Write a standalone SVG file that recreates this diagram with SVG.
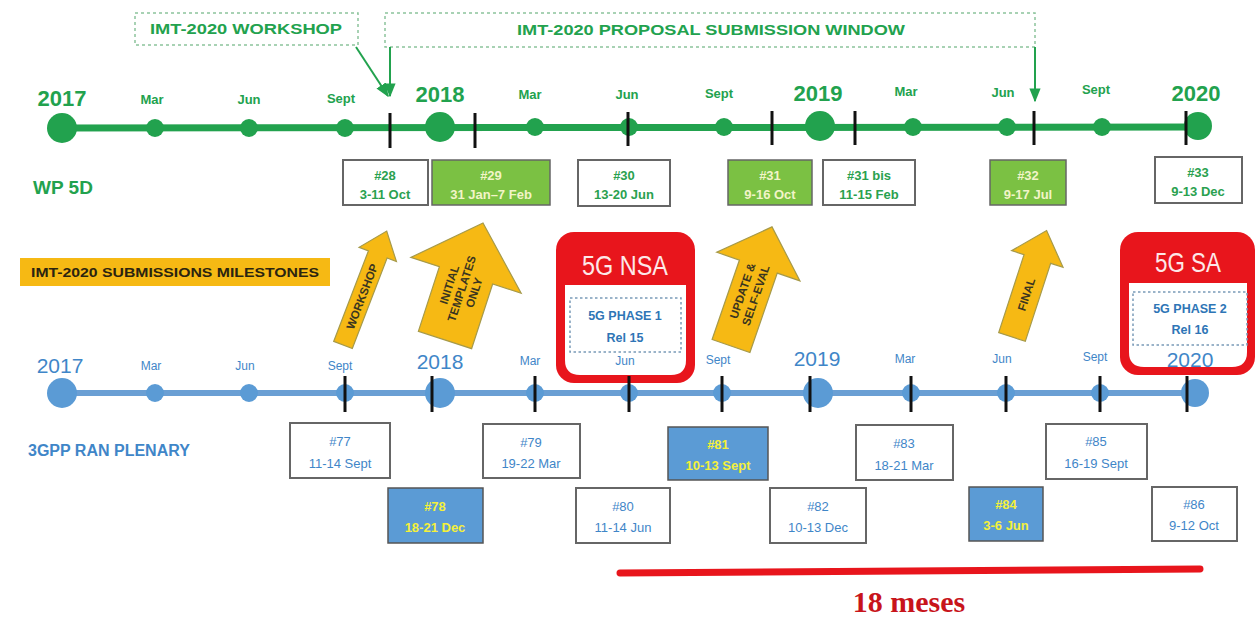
<svg xmlns="http://www.w3.org/2000/svg" width="1258" height="637" viewBox="0 0 1258 637">
<defs>
<style>
.g{fill:#22a24e}
.gt{font-family:"Liberation Sans",Arial,sans-serif;font-weight:bold;fill:#22a24e;text-anchor:middle}
.bt{font-family:"Liberation Sans",Arial,sans-serif;fill:#3f86c8;text-anchor:middle}
.bb{fill:#5b9bd5}
.tick{stroke:#111;stroke-width:3}
.wbox{fill:#fff;stroke:#666;stroke-width:2}
.gbox{fill:#7bc143;stroke:#666;stroke-width:1.5}
.bbox{fill:#5b9bd5;stroke:#555;stroke-width:1.5}
.wpt{font-family:"Liberation Sans",Arial,sans-serif;font-weight:bold;font-size:13px;text-anchor:middle;fill:#2aa14f}
.wpg{font-family:"Liberation Sans",Arial,sans-serif;font-weight:bold;font-size:13px;text-anchor:middle;fill:#f2f4c8}
.rt{font-family:"Liberation Sans",Arial,sans-serif;font-size:13px;text-anchor:middle;fill:#3f86c8}
.ry{font-family:"Liberation Sans",Arial,sans-serif;font-weight:bold;font-size:13px;text-anchor:middle;fill:#f4f03a}
.dash{fill:#fff;stroke:#8cc49c;stroke-width:1.5;stroke-dasharray:3 3}
.oarr{fill:#f6b914;stroke:#a69a4a;stroke-width:1.2}
.otx{font-family:"Liberation Sans",Arial,sans-serif;font-weight:bold;font-size:11.5px;fill:#3a3520;text-anchor:middle}
.red{fill:#e8151c}
.bigw{font-family:"Liberation Sans",Arial,sans-serif;font-size:28px;fill:#fde8e8;text-anchor:middle}
.ph{font-family:"Liberation Sans",Arial,sans-serif;font-weight:bold;font-size:12.5px;fill:#2e75b6;text-anchor:middle}
.idash{fill:none;stroke:#7a9ab8;stroke-width:1.5;stroke-dasharray:2.5 2.5}
</style>
<marker id="ah" viewBox="0 0 10 10" refX="9" refY="5" markerWidth="7" markerHeight="7" orient="auto-start-reverse">
<path d="M0,1 L10,5 L0,9 z" fill="#22a24e"/>
</marker>
</defs>
<rect width="1258" height="637" fill="#fff"/>

<g id="workshop-label">
<rect class="dash" x="135" y="13" width="223" height="32"/>
<text class="gt" x="246" y="34" font-size="15" textLength="192" lengthAdjust="spacingAndGlyphs">IMT-2020 WORKSHOP</text>
</g>
<g id="window-label">
<rect class="dash" x="385" y="13" width="650" height="34"/>
<text class="gt" x="711" y="35" font-size="15" textLength="388" lengthAdjust="spacingAndGlyphs">IMT-2020 PROPOSAL SUBMISSION WINDOW</text>
</g>

<g id="connectors" stroke="#22a24e" stroke-width="2" fill="none">
<line x1="356" y1="47" x2="388" y2="96" marker-end="url(#ah)"/>
<line x1="390" y1="47" x2="390" y2="96" marker-end="url(#ah)"/>
<line x1="1035" y1="47" x2="1035" y2="101" marker-end="url(#ah)"/>
</g>

<g id="wp5d-timeline">
<line x1="62" y1="128" x2="1198" y2="127" stroke="#22a24e" stroke-width="7"/>
<circle class="g" cx="62" cy="128" r="15"/>
<circle class="g" cx="155" cy="128" r="9"/>
<circle class="g" cx="249" cy="128" r="9"/>
<circle class="g" cx="345" cy="128" r="9"/>
<circle class="g" cx="440" cy="127" r="15"/>
<circle class="g" cx="535" cy="127" r="9"/>
<circle class="g" cx="629" cy="127" r="9"/>
<circle class="g" cx="724" cy="127" r="9"/>
<circle class="g" cx="820" cy="126" r="15"/>
<circle class="g" cx="913" cy="127" r="9"/>
<circle class="g" cx="1007" cy="127" r="9"/>
<circle class="g" cx="1102" cy="127" r="9"/>
<circle class="g" cx="1198" cy="126" r="14"/>
<line class="tick" x1="390" y1="113" x2="390" y2="148"/>
<line class="tick" x1="475" y1="113" x2="475" y2="148"/>
<line class="tick" x1="628" y1="112" x2="628" y2="146"/>
<line class="tick" x1="772" y1="111" x2="772" y2="145"/>
<line class="tick" x1="855" y1="111" x2="855" y2="145"/>
<line class="tick" x1="1034" y1="111" x2="1034" y2="145"/>
<line class="tick" x1="1186" y1="111" x2="1186" y2="145"/>
<text class="gt" x="62" y="106" font-size="22">2017</text>
<text class="gt" x="152" y="104" font-size="13">Mar</text>
<text class="gt" x="249" y="104" font-size="13">Jun</text>
<text class="gt" x="341" y="103" font-size="13">Sept</text>
<text class="gt" x="440" y="102" font-size="22">2018</text>
<text class="gt" x="530" y="99" font-size="13">Mar</text>
<text class="gt" x="627" y="99" font-size="13">Jun</text>
<text class="gt" x="719" y="98" font-size="13">Sept</text>
<text class="gt" x="818" y="101" font-size="22">2019</text>
<text class="gt" x="906" y="96" font-size="13">Mar</text>
<text class="gt" x="1003" y="97" font-size="13">Jun</text>
<text class="gt" x="1096" y="94" font-size="13">Sept</text>
<text class="gt" x="1196" y="101" font-size="22">2020</text>
<text class="gt" x="63" y="194" font-size="19">WP 5D</text>
</g>

<g id="wp28"><rect class="wbox" x="343" y="160" width="85" height="45"/><text class="wpt" x="385" y="180">#28</text><text class="wpt" x="385" y="199">3-11 Oct</text></g>
<g id="wp29"><rect class="gbox" x="432" y="160" width="118" height="45"/><text class="wpg" x="491" y="180">#29</text><text class="wpg" x="491" y="199">31 Jan–7 Feb</text></g>
<g id="wp30"><rect class="wbox" x="578" y="160" width="92" height="46"/><text class="wpt" x="624" y="180">#30</text><text class="wpt" x="624" y="199">13-20 Jun</text></g>
<g id="wp31"><rect class="gbox" x="728" y="160" width="84" height="45"/><text class="wpg" x="770" y="180">#31</text><text class="wpg" x="770" y="199">9-16 Oct</text></g>
<g id="wp31bis"><rect class="wbox" x="823" y="160" width="92" height="45"/><text class="wpt" x="869" y="180">#31 bis</text><text class="wpt" x="869" y="199">11-15 Feb</text></g>
<g id="wp32"><rect class="gbox" x="990" y="160" width="76" height="45"/><text class="wpg" x="1028" y="180">#32</text><text class="wpg" x="1028" y="199">9-17 Jul</text></g>
<g id="wp33"><rect class="wbox" x="1155" y="157" width="87" height="46"/><text class="wpt" x="1198" y="177">#33</text><text class="wpt" x="1198" y="196">9-13 Dec</text></g>

<g id="milestones-label">
<rect x="20" y="258" width="310" height="28" fill="#f6b914"/>
<text x="175" y="277" font-family="Liberation Sans, Arial, sans-serif" font-weight="bold" font-size="12" fill="#2b2410" text-anchor="middle" textLength="288" lengthAdjust="spacingAndGlyphs">IMT-2020 SUBMISSIONS MILESTONES</text>
</g>

<g id="arrow-workshop" transform="translate(343,345) rotate(21)">
<path class="oarr" d="M-10,0 L-10,-97 L-20,-97 L0,-122 L20,-97 L10,-97 L10,0 Z"/>
<text class="otx" font-size="12.5" transform="translate(4.5,-52) rotate(-90)">WORKSHOP</text>
</g>
<g id="arrow-templates" transform="translate(445,340) rotate(18)">
<path class="oarr" d="M-28,0 L-28,-68 L-58,-68 L0,-123 L58,-68 L28,-68 L28,0 Z"/>
<text class="otx" transform="translate(0,-54) rotate(-90)"><tspan x="0" dy="-9">INITIAL</tspan><tspan x="0" dy="13">TEMPLATES</tspan><tspan x="0" dy="13">ONLY</tspan></text>
</g>
<g id="arrow-update" transform="translate(731,346) rotate(19)">
<path class="oarr" d="M-20,0 L-20,-84 L-44,-84 L0,-126 L44,-84 L20,-84 L20,0 Z"/>
<text class="otx" font-size="12.5" transform="translate(0,-56) rotate(-90)"><tspan x="0" dy="-3">UPDATE &amp;</tspan><tspan x="0" dy="14">SELF-EVAL</tspan></text>
</g>
<g id="arrow-final" transform="translate(1012,337) rotate(18)">
<path class="oarr" d="M-14,0 L-14,-82 L-27,-82 L0,-112 L27,-82 L14,-82 L14,0 Z"/>
<text class="otx" font-size="12" transform="translate(4.5,-45) rotate(-90)">FINAL</text>
</g>

<g id="nsa">
<rect class="red" x="556" y="232" width="139" height="151" rx="18"/>
<path d="M565,285 H686 V360 Q686,375 671,375 H580 Q565,375 565,360 Z" fill="#fff"/>
<text class="bigw" x="625" y="275" textLength="86" lengthAdjust="spacingAndGlyphs">5G NSA</text>
<rect class="idash" x="570" y="298" width="111" height="54"/>
<text class="ph" x="625" y="320">5G PHASE 1</text>
<text class="ph" x="625" y="342">Rel 15</text>
</g>
<g id="sa">
<rect class="red" x="1120" y="232" width="135" height="143" rx="18"/>
<path d="M1129,283 H1247 V352 Q1247,367 1232,367 H1144 Q1129,367 1129,352 Z" fill="#fff"/>
<text class="bigw" x="1188" y="272" textLength="66" lengthAdjust="spacingAndGlyphs">5G SA</text>
<rect class="idash" x="1133" y="292" width="114" height="53"/>
<text class="ph" x="1190" y="313">5G PHASE 2</text>
<text class="ph" x="1190" y="334">Rel 16</text>
</g>

<g id="ran-timeline">
<line x1="62" y1="393" x2="1195" y2="393" stroke="#6a9fd4" stroke-width="6"/>
<circle class="bb" cx="62" cy="393" r="15"/>
<circle class="bb" cx="155" cy="393" r="9"/>
<circle class="bb" cx="249" cy="393" r="9"/>
<circle class="bb" cx="345" cy="393" r="9"/>
<circle class="bb" cx="440" cy="393" r="15"/>
<circle class="bb" cx="535" cy="393" r="9"/>
<circle class="bb" cx="629" cy="393" r="9"/>
<circle class="bb" cx="722" cy="393" r="9"/>
<circle class="bb" cx="818" cy="393" r="15"/>
<circle class="bb" cx="911" cy="393" r="9"/>
<circle class="bb" cx="1006" cy="393" r="9"/>
<circle class="bb" cx="1100" cy="393" r="9"/>
<circle class="bb" cx="1195" cy="393" r="14"/>
<line class="tick" x1="345" y1="376" x2="345" y2="412"/>
<line class="tick" x1="432" y1="376" x2="432" y2="412"/>
<line class="tick" x1="535" y1="376" x2="535" y2="412"/>
<line class="tick" x1="629" y1="376" x2="629" y2="412"/>
<line class="tick" x1="722" y1="376" x2="722" y2="412"/>
<line class="tick" x1="810" y1="376" x2="810" y2="412"/>
<line class="tick" x1="911" y1="376" x2="911" y2="412"/>
<line class="tick" x1="1006" y1="376" x2="1006" y2="412"/>
<line class="tick" x1="1100" y1="376" x2="1100" y2="412"/>
<line class="tick" x1="1187" y1="376" x2="1187" y2="412"/>
<text class="bt" x="60" y="373" font-size="21">2017</text>
<text class="bt" x="151" y="370" font-size="12">Mar</text>
<text class="bt" x="245" y="370" font-size="12">Jun</text>
<text class="bt" x="340" y="370" font-size="12">Sept</text>
<text class="bt" x="440" y="369" font-size="21">2018</text>
<text class="bt" x="530" y="365" font-size="12">Mar</text>
<text class="bt" x="625" y="365" font-size="12">Jun</text>
<text class="bt" x="718" y="364" font-size="12">Sept</text>
<text class="bt" x="817" y="366" font-size="21">2019</text>
<text class="bt" x="905" y="363" font-size="12">Mar</text>
<text class="bt" x="1002" y="363" font-size="12">Jun</text>
<text class="bt" x="1095" y="361" font-size="12">Sept</text>
<text class="bt" x="1190" y="367" font-size="21">2020</text>
<text x="28" y="456" font-family="Liberation Sans, Arial, sans-serif" font-weight="bold" font-size="16" fill="#3f86c8">3GPP RAN PLENARY</text>
</g>

<g id="r77"><rect class="wbox" x="290" y="423" width="100" height="55"/><text class="rt" x="340" y="446">#77</text><text class="rt" x="340" y="468">11-14 Sept</text></g>
<g id="r78"><rect class="bbox" x="388" y="488" width="95" height="55"/><text class="ry" x="435" y="511">#78</text><text class="ry" x="435" y="532">18-21 Dec</text></g>
<g id="r79"><rect class="wbox" x="483" y="424" width="97" height="54"/><text class="rt" x="531" y="447">#79</text><text class="rt" x="531" y="468">19-22 Mar</text></g>
<g id="r80"><rect class="wbox" x="576" y="488" width="94" height="55"/><text class="rt" x="623" y="511">#80</text><text class="rt" x="623" y="532">11-14 Jun</text></g>
<g id="r81"><rect class="bbox" x="668" y="427" width="100" height="53"/><text class="ry" x="718" y="449">#81</text><text class="ry" x="718" y="470">10-13 Sept</text></g>
<g id="r82"><rect class="wbox" x="770" y="488" width="96" height="55"/><text class="rt" x="818" y="511">#82</text><text class="rt" x="818" y="532">10-13 Dec</text></g>
<g id="r83"><rect class="wbox" x="856" y="425" width="97" height="55"/><text class="rt" x="904" y="448">#83</text><text class="rt" x="904" y="470">18-21 Mar</text></g>
<g id="r84"><rect class="bbox" x="969" y="487" width="74" height="54"/><text class="ry" x="1006" y="509">#84</text><text class="ry" x="1006" y="530">3-6 Jun</text></g>
<g id="r85"><rect class="wbox" x="1046" y="424" width="101" height="55"/><text class="rt" x="1096" y="446">#85</text><text class="rt" x="1096" y="468">16-19 Sept</text></g>
<g id="r86"><rect class="wbox" x="1152" y="487" width="85" height="54"/><text class="rt" x="1194" y="509">#86</text><text class="rt" x="1194" y="530">9-12 Oct</text></g>

<g id="duration">
<line x1="620" y1="573" x2="1200" y2="569" stroke="#e8151c" stroke-width="7" stroke-linecap="round"/>
<text x="909" y="612" font-family="Liberation Serif, 'Times New Roman', serif" font-weight="bold" font-size="30" fill="#c8141b" text-anchor="middle">18 meses</text>
</g>
</svg>
